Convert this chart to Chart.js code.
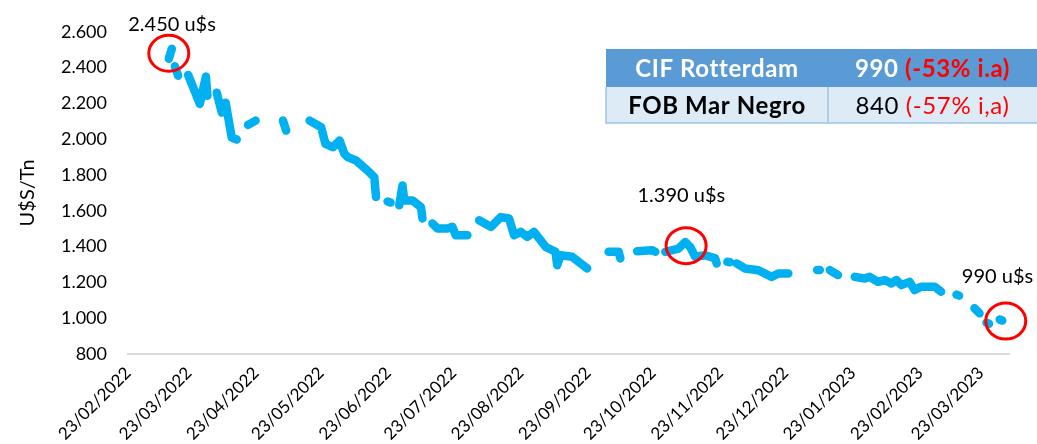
<!DOCTYPE html>
<html>
<head>
<meta charset="utf-8">
<script src="https://cdn.jsdelivr.net/npm/chart.js@4.4.1/dist/chart.umd.min.js"></script>
<style>
  body { margin: 0; background: #fff; }
  #wrap { width: 1037px; height: 444px; position: relative; }
</style>
</head>
<body>
<div id="wrap"><canvas id="priceChart"></canvas></div>
<script>
// Days counted from 23/02/2022, price in U$S/Tn (null = gap in the series)
const days = [
  18.8, 20.2, 21,
  21.6, 23.1, 25,
  27.7, 33.1, 35.9, 36.6, 38,
  40.9, 43.2, 45.0, 47.8, 50.1, 52,
  55.3, 58.8, 65,
  71.4, 72.9, 78,
  83.7, 89.0, 91.0, 94.4, 97.5, 99.7, 101.3, 105.1, 111.2, 113.5, 114.3, 117,
  119.6, 121.0, 123,
  125.0, 126.5, 127.3, 131.1, 135.0, 135.7, 138,
  140.3, 142.6, 147.2, 149.5, 151.0, 156.4, 159,
  161.8, 167.2, 171.8, 175.6, 177.9, 181.0, 184.0, 187.1, 192.5, 197.0, 197.8, 199.3, 204.7, 211.6, 216,
  221.5, 226.1, 226.9, 230,
  234.6, 241.5, 243.0, 245,
  247.6, 253.7, 256.8, 259.1, 261.4, 266.0, 270.6, 271.3, 274,
  276.2, 277.4, 279,
  280.5, 284.3, 290.5, 296.6, 299.7, 304.3, 311,
  317.6, 318.8, 321,
  323.4, 327.2, 331,
  334.9, 339.5, 341.8, 345.6, 348.7, 351.8, 354.1, 356.4, 360.2, 362.5, 365.5, 371.7, 374.7, 378,
  381.8, 383.0, 386,
  390.1, 392.4, 394,
  395.6, 396.8, 399,
  401.7, 402.9
];
const prices = [
  2450, 2505, null,
  2407, 2355, null,
  2359, 2197, 2350, 2243, null,
  2260, 2149, 2204, 2009, 1998, null,
  2080, 2104, null,
  2104, 2048, null,
  2104, 2067, 1974, 1955, 1993, 1919, 1900, 1881, 1816, 1788, 1677, null,
  1652, 1646, null,
  1631, 1742, 1658, 1658, 1621, 1557, null,
  1529, 1501, 1501, 1510, 1464, 1464, null,
  1547, 1510, 1565, 1557, 1464, 1482, 1454, 1482, 1398, 1371, 1296, 1352, 1343, 1278, null,
  1371, 1371, 1334, null,
  1374, 1380, 1371, null,
  1371, 1389, 1426, 1398, 1343, 1352, 1334, 1306, null,
  1315, 1313, null,
  1306, 1278, 1268, 1231, 1250, 1250, null,
  1269, 1269, null,
  1269, 1241, null,
  1231, 1222, 1231, 1203, 1213, 1194, 1213, 1185, 1203, 1157, 1176, 1176, 1148, null,
  1132, 1126, null,
  1055, 1027, null,
  975, 969, null,
  993, 987
];

// x axis ticks (monthly) and their labels
const tickDays = [0, 28, 59, 89, 120, 150, 181, 212, 242, 273, 303, 334, 365, 393];
const tickLabels = ['23/02/2022', '23/03/2022', '23/04/2022', '23/05/2022', '23/06/2022', '23/07/2022',
  '23/08/2022', '23/09/2022', '23/10/2022', '23/11/2022', '23/12/2022', '23/01/2023', '23/02/2023', '23/03/2023'];

// highlighted values (red circles + text)
const noteDays = [18.8, 257.2, 404.5];
const noteValues = [2480, 1405, 984];
const noteTextDays = [20.3, 255, 400.7];
const noteTextValues = [2640, 1686, 1230];
const noteTexts = ['2.450 u$s', '1.390 u$s', '990 u$s'];

// summary box
const boxRows = [
  { name: 'CIF Rotterdam', price: '990 ', change: '(-53% i.a)' },
  { name: 'FOB Mar Negro', price: '840 ', change: '(-57% i,a)' }
];

const FONT = 'Lato, "Open Sans", sans-serif';

function thousands(v) {
  return String(v).replace(/\B(?=(\d{3})+(?!\d))/g, '.');
}

const notesPlugin = {
  id: 'notes',
  afterDatasetsDraw(chart) {
    const { ctx } = chart;
    const xs = chart.scales.x, ys = chart.scales.y;
    ctx.save();

    // red circles round the marked values
    ctx.strokeStyle = '#ff0000';
    ctx.lineWidth = 3;
    noteDays.forEach((d, i) => {
      ctx.beginPath();
      ctx.ellipse(xs.getPixelForValue(d), ys.getPixelForValue(noteValues[i]), 20, 18, 0, 0, Math.PI * 2);
      ctx.stroke();
    });

    ctx.fillStyle = '#000';
    ctx.font = '20px ' + FONT;
    ctx.textAlign = 'center';
    ctx.textBaseline = 'middle';
    noteTexts.forEach((t, i) => {
      ctx.fillText(t, xs.getPixelForValue(noteTextDays[i]), ys.getPixelForValue(noteTextValues[i]));
    });

    // summary box top right
    const left = 606, top = 49, mid = 828, right = chart.width;
    const rowH = [38, 36];
    ctx.fillStyle = '#5b9bd5';
    ctx.fillRect(left, top, right - left, rowH[0]);
    ctx.fillStyle = '#ddebf7';
    ctx.fillRect(left, top + rowH[0], right - left, rowH[1]);
    ctx.strokeStyle = '#9dc3e6';
    ctx.lineWidth = 1.5;
    ctx.beginPath();
    ctx.moveTo(left, top + rowH[0]);
    ctx.lineTo(left, top + rowH[0] + rowH[1]);
    ctx.lineTo(right, top + rowH[0] + rowH[1]);
    ctx.moveTo(mid, top + rowH[0]);
    ctx.lineTo(mid, top + rowH[0] + rowH[1]);
    ctx.stroke();

    ctx.letterSpacing = '0.6px';
    boxRows.forEach((row, i) => {
      const cy = top + (i === 0 ? rowH[0] / 2 : rowH[0] + rowH[1] / 2) + 1;
      const weight = i === 0 ? 'bold ' : '';
      const textColor = i === 0 ? '#fff' : '#000';
      ctx.textBaseline = 'middle';
      ctx.textAlign = 'center';
      ctx.font = 'bold 24px ' + FONT;
      ctx.fillStyle = textColor;
      ctx.fillText(row.name, (left + mid) / 2, cy);

      ctx.font = weight + '24px ' + FONT;
      const w1 = ctx.measureText(row.price).width;
      const w2 = ctx.measureText(row.change).width;
      const sx = (mid + right) / 2 - (w1 + w2) / 2;
      ctx.textAlign = 'left';
      ctx.fillStyle = textColor;
      ctx.fillText(row.price, sx, cy);
      ctx.fillStyle = '#ff0000';
      ctx.fillText(row.change, sx + w1, cy);
    });

    ctx.restore();
  }
};

const points = days.map((d, i) => ({ x: d, y: prices[i] }));

new Chart(document.getElementById('priceChart'), {
  type: 'line',
  data: {
    datasets: [{
      label: 'U$S/Tn',
      data: points,
      borderColor: '#00b0f0',
      backgroundColor: '#00b0f0',
      borderWidth: 8.5,
      borderCapStyle: 'round',
      borderJoinStyle: 'round',
      pointRadius: 0,
      tension: 0,
      spanGaps: false
    }]
  },
  options: {
    responsive: true,
    maintainAspectRatio: false,
    animation: false,
    layout: { padding: { top: 31, right: 28, left: 0, bottom: 0 } },
    plugins: {
      legend: { display: false },
      tooltip: { enabled: false }
    },
    scales: {
      x: {
        type: 'linear',
        min: 0,
        max: 406,
        grid: { display: false, drawTicks: false },
        border: { display: true, color: '#d9d9d9', width: 2 },
        afterBuildTicks: (scale) => { scale.ticks = tickDays.map(v => ({ value: v })); },
        afterFit: (scale) => { scale.height = 90; },
        ticks: {
          autoSkip: false,
          minRotation: 45,
          maxRotation: 45,
          padding: 9,
          color: '#000',
          font: { family: FONT, size: 17 },
          callback: (value, index) => tickLabels[index]
        }
      },
      y: {
        min: 800,
        max: 2600,
        grid: { display: false, drawTicks: false },
        border: { display: false },
        afterFit: (scale) => { scale.width = 128; },
        ticks: {
          stepSize: 200,
          padding: 21,
          color: '#000',
          font: { family: FONT, size: 18 },
          callback: (value) => thousands(value)
        },
        title: {
          display: true,
          text: 'U$S/Tn',
          color: '#000',
          padding: { top: 16, bottom: 0 },
          font: { family: FONT, size: 20 }
        }
      }
    }
  },
  plugins: [notesPlugin]
});
</script>
</body>
</html>
